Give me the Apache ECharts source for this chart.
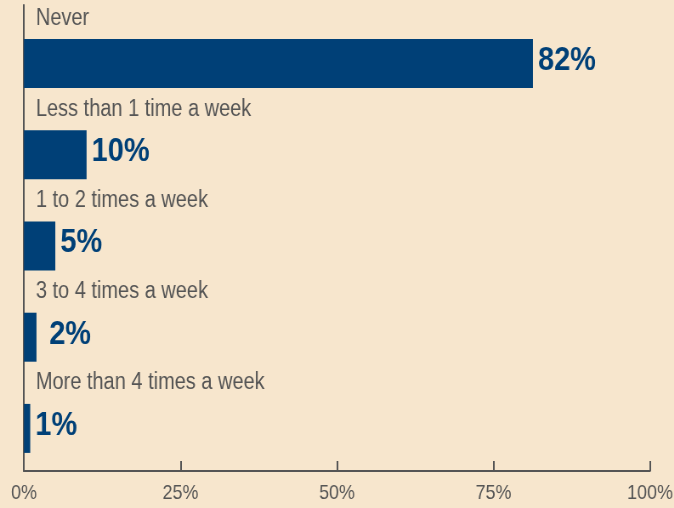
<!DOCTYPE html>
<html>
<head>
<meta charset="utf-8">
<script src="https://cdn.jsdelivr.net/npm/echarts@6/dist/echarts.min.js"></script>
<style>
html,body{margin:0;padding:0;background:#f7e6cd;overflow:hidden;width:674px;height:508px;}
#chart{width:793px;height:508px;transform:scaleX(0.85);transform-origin:0 0;}
</style>
</head>
<body>
<div id="chart"></div>
<script>
const categories = ["Never", "Less than 1 time a week", "1 to 2 times a week", "3 to 4 times a week", "More than 4 times a week"];
const values = [81.3, 10, 5, 2, 1];
const valueLabels = ["82%", "10%", "5%", "2%", "1%"];
const xTicks = [0, 25, 50, 75, 100];

const FONT = "'Liberation Sans', Arial, sans-serif";
const BLUE = '#004077';
const GREY = '#555555';

const chart = echarts.init(document.getElementById('chart'), null, {renderer: 'canvas'});
chart.setOption({
  backgroundColor: '#f7e6cd',
  animation: false,
  grid: [
    {left: 28.2, right: 28.3, top: 18, bottom: 34, outerBoundsMode: 'none', containLabel: false},
    {left: 28.2, right: 28.3, top: 5, bottom: 37, outerBoundsMode: 'none', containLabel: false}
  ],
  xAxis: [
    {gridIndex: 0, type: 'value', min: xTicks[0], max: xTicks[xTicks.length - 1], interval: 25,
     show: false, splitLine: {show: false}},
    {gridIndex: 1, type: 'value', min: xTicks[0], max: xTicks[xTicks.length - 1], interval: 25,
     axisLine: {show: true, lineStyle: {color: GREY, width: 2}},
     axisTick: {show: true, inside: true, length: 10, lineStyle: {color: GREY, width: 2}},
     axisLabel: {formatter: '{value}%', color: GREY, fontFamily: FONT, fontSize: 21, margin: 12},
     splitLine: {show: false}}
  ],
  yAxis: [
    {gridIndex: 0, type: 'category', data: categories, inverse: true,
     axisLine: {show: false}, axisTick: {show: false}, splitLine: {show: false},
     axisLabel: {show: false}},
    {gridIndex: 1, type: 'value', min: 0, max: 1,
     axisLine: {show: true, lineStyle: {color: GREY, width: 2}},
     axisTick: {show: false}, axisLabel: {show: false}, splitLine: {show: false}}
  ],
  series: [{
    type: 'bar',
    xAxisIndex: 0, yAxisIndex: 0,
    barWidth: 49,
    barGap: '-100%',
    itemStyle: {color: BLUE},
    data: values.map((v, i) => i === 3 ? {value: v, label: {distance: 15}} : v),
    label: {
      show: true, position: 'right', distance: 6, offset: [0, -3],
      color: BLUE, fontFamily: FONT, fontWeight: 'bold', fontSize: 34,
      formatter: p => valueLabels[p.dataIndex]
    }
  }, {
    type: 'bar',
    xAxisIndex: 0, yAxisIndex: 0,
    barWidth: 49,
    barGap: '-100%',
    itemStyle: {color: 'rgba(0,0,0,0)'},
    data: categories.map(() => 0),
    label: {
      show: true, position: [14, -21], align: 'left', verticalAlign: 'middle',
      color: GREY, fontFamily: FONT, fontSize: 23.5,
      formatter: p => p.name
    }
  }]
});
</script>
</body>
</html>
